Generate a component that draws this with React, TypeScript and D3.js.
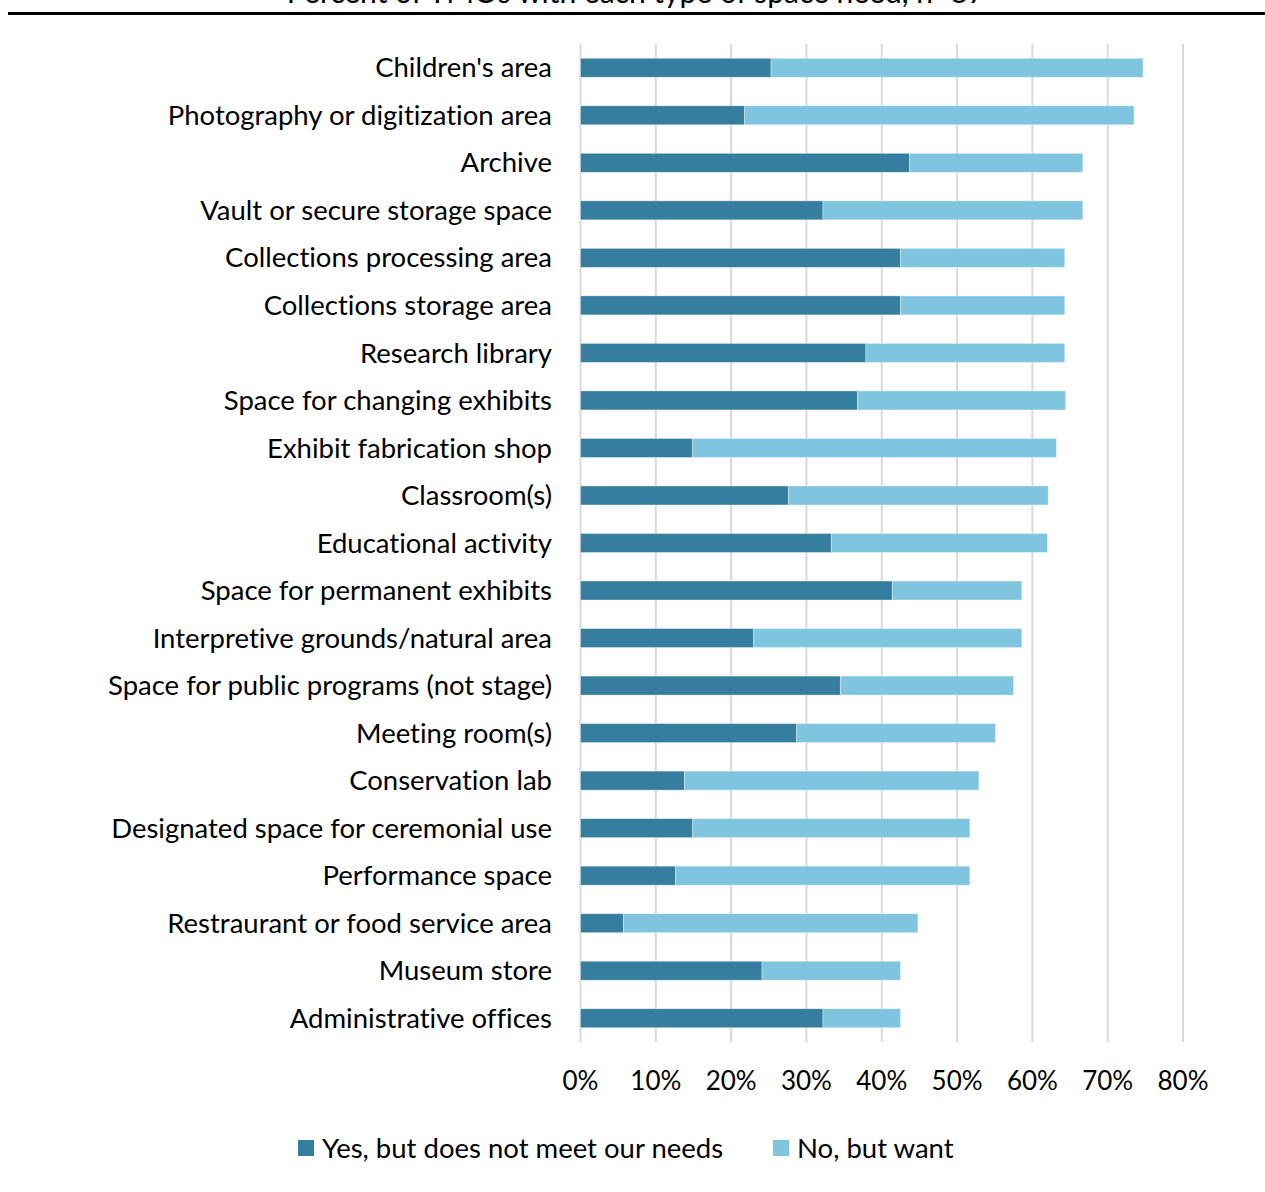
import React from "react";
import * as d3 from "d3";

const categories = [
  "Children's area",
  "Photography or digitization area",
  "Archive",
  "Vault or secure storage space",
  "Collections processing area",
  "Collections storage area",
  "Research library",
  "Space for changing exhibits",
  "Exhibit fabrication shop",
  "Classroom(s)",
  "Educational activity",
  "Space for permanent exhibits",
  "Interpretive grounds/natural area",
  "Space for public programs (not stage)",
  "Meeting room(s)",
  "Conservation lab",
  "Designated space for ceremonial use",
  "Performance space",
  "Restraurant or food service area",
  "Museum store",
  "Administrative offices",
];

// Percent "Yes, but does not meet our needs"
const yesNotMeet = [25.3, 21.8, 43.7, 32.2, 42.5, 42.5, 37.9, 36.8, 14.9, 27.6, 33.3, 41.4, 23.0, 34.5, 28.7, 13.8, 14.9, 12.6, 5.7, 24.1, 32.2];
// Percent "No, but want"
const noButWant = [49.4, 51.7, 23.0, 34.5, 21.8, 21.8, 26.4, 27.6, 48.3, 34.5, 28.7, 17.2, 35.6, 23.0, 26.4, 39.1, 36.8, 39.1, 39.1, 18.4, 10.3];

const xTicks = [0, 10, 20, 30, 40, 50, 60, 70, 80];
const seriesNames = ["Yes, but does not meet our needs", "No, but want"];
const title = "Percent of TMOs with each type of space need, n=87";

const W = 1265;
const H = 1192;
const FONT = "Lato, 'Open Sans', sans-serif";
const colors = ["#367E9F", "#7FC5DF"];

export default function App() {
  const x = d3.scaleLinear().domain([0, 80]).range([580.5, 1183]);
  const y = d3.scaleBand<string>().domain(categories).range([44, 1042]).paddingInner(0.6).paddingOuter(0.3);
  const stackData = categories.map((c, i) => ({ cat: c, yes: yesNotMeet[i], no: noButWant[i] }));
  const series = d3.stack<any>().keys(["yes", "no"])(stackData);

  return (
    <svg
      width={W}
      height={H}
      style={{ position: "absolute", left: 0, top: 0, background: "#fff", fontVariantLigatures: "none", fontFeatureSettings: "'liga' 0" }}
      fontFamily={FONT}
    >
      <rect width={W} height={H} fill="#fff" />
      <text x={636} y={3} textAnchor="middle" fontSize={30} fill="#000">{title}</text>
      <line x1={8} x2={W} y1={13.5} y2={13.5} stroke="#000" strokeWidth={3} />
      {xTicks.map((t) => (
        <line key={t} x1={x(t)} x2={x(t)} y1={44} y2={1042} stroke="#d9d9d9" strokeWidth={2} />
      ))}
      {series.map((s, si) => (
        <g key={si}>
          {s.map((d: any, i: number) => (
            <rect
              key={i}
              x={x(d[0])}
              y={y(d.data.cat)}
              width={x(d[1]) - x(d[0])}
              height={y.bandwidth()}
              fill={colors[si]}
              stroke="#fff"
              strokeOpacity={0.5}
              strokeWidth={0.75}
            />
          ))}
        </g>
      ))}
      {categories.map((c) => (
        <text key={c} x={552} y={(y(c) as number) + y.bandwidth() / 2} dy="0.35em" textAnchor="end" fontSize={27.5} fill="#000">{c}</text>
      ))}
      {xTicks.map((t) => (
        <text key={t} x={x(t)} y={1081} dy="0.35em" textAnchor="middle" fontSize={26} fill="#000">{t + "%"}</text>
      ))}
      <g>
        <rect x={298} y={1140} width={16} height={16} fill={colors[0]} />
        <text x={322} y={1148} dy="0.35em" fontSize={27.5} fill="#000">{seriesNames[0]}</text>
        <rect x={773} y={1140} width={16} height={16} fill={colors[1]} />
        <text x={797} y={1148} dy="0.35em" fontSize={27.5} fill="#000">{seriesNames[1]}</text>
      </g>
    </svg>
  );
}
